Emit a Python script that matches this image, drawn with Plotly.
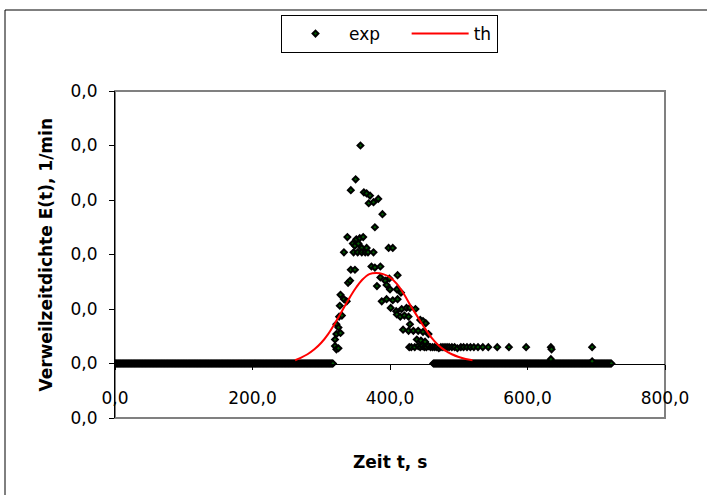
import plotly.graph_objects as go

# ---- data ----
exp_t_peak = [320, 320, 322, 322, 322, 325, 325, 326, 327, 328, 328, 330, 333, 333, 337, 338, 339, 342,
              343, 343, 346, 347, 349, 349, 350, 351, 353, 354, 356, 357, 359, 359, 361, 362, 364, 366,
              366, 368, 369, 371, 373, 376, 376, 378, 378, 381, 383, 386, 386, 388, 389, 393, 395, 395,
              398, 399, 400, 401, 404, 404, 409, 410, 410, 411, 411, 415, 416, 417, 419, 421, 424, 427,
              427, 428, 429, 429, 434, 437, 439, 441, 444, 445, 448, 448, 451, 452, 456]
exp_E_peak = [0.0022, 0.0016, 0.0036, 0.0027, 0.0013, 0.0033, 0.0014, 0.0043, 0.0053, 0.0063, 0.0028,
              0.0044, 0.0059, 0.0102, 0.0057, 0.0116, 0.0074, 0.0076, 0.0159, 0.0086, 0.0110, 0.0102,
              0.0108, 0.0086, 0.0169, 0.0114, 0.0102, 0.0110, 0.0115, 0.0200, 0.0106, 0.0102, 0.0116,
              0.0157, 0.0102, 0.0156, 0.0106, 0.0102, 0.0147, 0.0154, 0.0089, 0.0148, 0.0102, 0.0125,
              0.0088, 0.0071, 0.0151, 0.0089, 0.0079, 0.0057, 0.0137, 0.0076, 0.0072, 0.0059, 0.0106,
              0.0078, 0.0068, 0.0051, 0.0106, 0.0058, 0.0048, 0.0068, 0.0045, 0.0081, 0.0059, 0.0043,
              0.0065, 0.0050, 0.0031, 0.0044, 0.0051, 0.0043, 0.0030, 0.0015, 0.0051, 0.0036, 0.0030,
              0.0050, 0.0022, 0.0030, 0.0040, 0.0021, 0.0039, 0.0029, 0.0020, 0.0037, 0.0027]
exp_t_tail = [431, 436, 441, 444, 447, 450, 453, 456, 459, 462, 465, 468, 471, 474, 477, 480, 483, 486,
              490, 494, 498, 503, 507, 512, 517, 522, 528, 535, 543, 556, 573, 598, 634, 635, 694, 634, 694]
exp_E_tail = [0.0015, 0.0015, 0.0016, 0.0015, 0.0016, 0.0015, 0.0015, 0.0016, 0.0015, 0.0015, 0.0015,
              0.0015, 0.0014, 0.0015, 0.0015, 0.0015, 0.0015, 0.0015, 0.0015, 0.0015, 0.0014, 0.0015,
              0.0015, 0.0015, 0.0015, 0.0015, 0.0015, 0.0015, 0.0015, 0.0015, 0.0015, 0.0015, 0.0015,
              0.0013, 0.0015, 0.0004, 0.0002]
exp_t_zero = list(range(0, 318, 1)) + list(range(463, 723, 1))
exp_E_zero = [0.0] * len(exp_t_zero)

th_t = [262, 270, 280, 290, 300, 310, 320, 330, 340, 350, 360, 370, 380, 390, 400, 410, 420, 430,
        440, 450, 460, 470, 480, 490, 500, 510, 520]
th_E = [0.0003, 0.00052, 0.00085, 0.0013, 0.0019, 0.0027, 0.0037, 0.0048, 0.0059, 0.0069, 0.0077,
        0.0082, 0.0083, 0.0082, 0.0079, 0.0073, 0.0064, 0.0053, 0.0043, 0.0033, 0.0024, 0.0017,
        0.0012, 0.00085, 0.0006, 0.00042, 0.0003]

x_tickvals = [0, 200, 400, 600, 800]
x_ticktext = ["0,0", "200,0", "400,0", "600,0", "800,0"]
y_tickvals = [-0.005, 0.0, 0.005, 0.010, 0.015, 0.020, 0.025]
y_ticktext = ["0,0", "0,0", "0,0", "0,0", "0,0", "0,0", "0,0"]

exp_t = exp_t_zero + exp_t_peak + exp_t_tail
exp_E = exp_E_zero + exp_E_peak + exp_E_tail

FONT = "DejaVu Sans"
W, H = 707, 495
L, R, T, B = 115, 665, 91, 418  # plot area in pixels

NB = "\u00a0"
fig = go.Figure()
fig.add_trace(go.Scatter(
    x=exp_t, y=exp_E, mode="markers", name="exp" + NB * 4,
    marker=dict(symbol="diamond", size=4.5, color="#005a00",
                line=dict(color="black", width=2)),
))
fig.add_trace(go.Scatter(
    x=th_t, y=th_E, mode="lines", name="th",
    line=dict(color="#ff0000", width=2, shape="spline", smoothing=1.0),
))

pw, ph = R - L, B - T
def px(x):
    return (x - L) / pw
def py(y):
    return (B - y) / ph

fig.update_layout(
    width=W, height=H,
    margin=dict(l=L, r=W - R, t=T, b=H - B, pad=0),
    paper_bgcolor="white", plot_bgcolor="white",
    font=dict(family=FONT, size=17, color="black"),
    showlegend=True,
    legend=dict(orientation="h", x=px(281), y=py(15), xanchor="left", yanchor="top",
                bordercolor="black", borderwidth=1, bgcolor="white",
                font=dict(family=FONT, size=17, color="black"),
                itemwidth=57, tracegroupgap=0),
    xaxis=dict(range=[0, 800], anchor="free", position=1 / 6,
               showline=True, linecolor="black", linewidth=1,
               ticks="outside", ticklen=5, tickcolor="black", tickwidth=1,
               tickvals=x_tickvals, ticktext=x_ticktext, ticklabelstandoff=14,
               showgrid=False, zeroline=False, tickfont=dict(size=17)),
    yaxis=dict(range=[-0.005, 0.025],
               showline=True, linecolor="black", linewidth=1,
               ticks="outside", ticklen=5, tickcolor="black", tickwidth=1,
               tickvals=y_tickvals, ticktext=y_ticktext, ticklabelstandoff=8,
               showgrid=False, zeroline=False, tickfont=dict(size=17)),
    shapes=[
        dict(type="rect", xref="paper", yref="paper", x0=px(5), x1=px(730), y0=py(510), y1=py(10),
             line=dict(color="black", width=1), layer="below"),
        dict(type="rect", xref="paper", yref="paper", x0=0, x1=1, y0=0, y1=1,
             line=dict(color="#808080", width=2), layer="below"),
    ],
    annotations=[
        dict(text="<b>Verweilzeitdichte E(t), 1/min</b>", xref="paper", yref="paper",
             x=px(45), y=0.5, xanchor="center", yanchor="middle", textangle=-90,
             showarrow=False, font=dict(family=FONT, size=17, color="black")),
        dict(text="<b>Zeit t, s</b>", xref="paper", yref="paper",
             x=0.5, y=py(462), xanchor="center", yanchor="middle",
             showarrow=False, font=dict(family=FONT, size=17, color="black")),
    ],
)

fig.write_html("out.html", config={"displayModeBar": False},
               post_script="document.body.style.margin='0';document.body.style.overflow='hidden';")
